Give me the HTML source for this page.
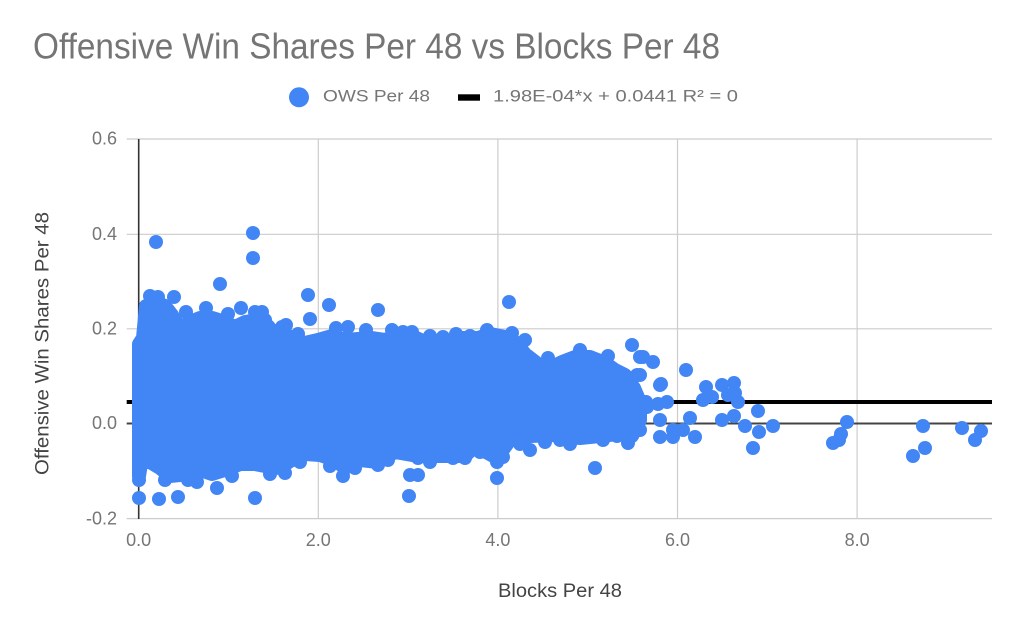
<!DOCTYPE html>
<html><head><meta charset="utf-8"><style>
html,body{margin:0;padding:0;background:#fff;}
svg{display:block;}
text{font-family:"Liberation Sans",Arial,sans-serif;}
</style></head><body>
<svg width="1024" height="633" viewBox="0 0 1024 633" xmlns="http://www.w3.org/2000/svg">
<rect x="0" y="0" width="1024" height="633" fill="#fff"/>
<text x="33" y="58.3" font-size="36" fill="#757575" textLength="687" lengthAdjust="spacingAndGlyphs">Offensive Win Shares Per 48 vs Blocks Per 48</text>
<circle cx="299" cy="97.3" r="10" fill="#4285F4"/>
<text x="323" y="101.7" font-size="17" fill="#757575" textLength="107" lengthAdjust="spacingAndGlyphs">OWS Per 48</text>
<rect x="458" y="94.3" width="22" height="6.4" fill="#000"/>
<text x="493" y="101.7" font-size="17" fill="#757575" textLength="245" lengthAdjust="spacingAndGlyphs">1.98E-04*x + 0.0441 R² = 0</text>
<g stroke="#cccccc" stroke-width="1.2" fill="none">
<line x1="126.7" y1="139" x2="992" y2="139"/>
<line x1="126.7" y1="234.3" x2="992" y2="234.3"/>
<line x1="126.7" y1="328.8" x2="992" y2="328.8"/>
<line x1="126.7" y1="518.6" x2="992" y2="518.6"/>
<line x1="318.3" y1="139" x2="318.3" y2="518.6"/>
<line x1="497.9" y1="139" x2="497.9" y2="518.6"/>
<line x1="677.5" y1="139" x2="677.5" y2="518.6"/>
<line x1="857.1" y1="139" x2="857.1" y2="518.6"/>
</g>
<line x1="126.7" y1="423.5" x2="992" y2="423.5" stroke="#444" stroke-width="2"/>
<line x1="138.7" y1="139" x2="138.7" y2="519" stroke="#333" stroke-width="1.6"/>
<line x1="126.7" y1="402" x2="992" y2="402" stroke="#000" stroke-width="4"/>
<polygon fill="#4285F4" stroke="#4285F4" stroke-width="14" stroke-linejoin="round" points="139,344 143,338 146,306 155,302 165,306 172,315 180,328 190,322 200,318 212,318 225,322 235,327 245,322 258,320 268,326 276,336 284,332 292,340 305,343 318,340 332,336 345,340 358,339 372,338 385,340 398,336 412,336 425,342 437,346 450,342 462,338 478,338 490,334 505,337 515,342 525,354 538,364 550,368 562,362 575,357 590,357 605,363 615,370 625,375 634,388 640,402 640,420 632,436 618,434 600,436 580,438 555,435 530,436 510,440 497,458 475,446 465,456 445,456 418,456 395,452 378,462 360,460 345,468 335,460 320,455 305,454 290,461 280,468 265,466 255,464 240,464 228,469 212,474 200,470 192,473 180,475 170,476 160,468 150,462 143,452 139,476 139,440 139,380"/>
<g fill="#4285F4">
<circle cx="150" cy="296" r="7"/>
<circle cx="158" cy="297" r="7"/>
<circle cx="186" cy="312" r="7"/>
<circle cx="206" cy="308" r="7"/>
<circle cx="228" cy="314" r="7"/>
<circle cx="262" cy="312" r="7"/>
<circle cx="298" cy="334" r="7"/>
<circle cx="336" cy="328" r="7"/>
<circle cx="366" cy="330" r="7"/>
<circle cx="392" cy="330" r="7"/>
<circle cx="430" cy="336" r="7"/>
<circle cx="456" cy="334" r="7"/>
<circle cx="470" cy="336" r="7"/>
<circle cx="548" cy="358" r="7"/>
<circle cx="580" cy="350" r="7"/>
<circle cx="608" cy="356" r="7"/>
<circle cx="165" cy="480" r="7"/>
<circle cx="188" cy="480" r="7"/>
<circle cx="232" cy="476" r="7"/>
<circle cx="270" cy="474" r="7"/>
<circle cx="300" cy="462" r="7"/>
<circle cx="330" cy="466" r="7"/>
<circle cx="355" cy="468" r="7"/>
<circle cx="388" cy="460" r="7"/>
<circle cx="430" cy="462" r="7"/>
<circle cx="480" cy="452" r="7"/>
<circle cx="520" cy="444" r="7"/>
<circle cx="545" cy="442" r="7"/>
<circle cx="570" cy="444" r="7"/>
<circle cx="156" cy="242" r="7"/>
<circle cx="253" cy="233" r="7"/>
<circle cx="253" cy="258" r="7"/>
<circle cx="220" cy="284" r="7"/>
<circle cx="174" cy="297" r="7"/>
<circle cx="308" cy="295" r="7"/>
<circle cx="329" cy="305" r="7"/>
<circle cx="241" cy="308" r="7"/>
<circle cx="255" cy="312" r="7"/>
<circle cx="265" cy="320" r="7"/>
<circle cx="282" cy="327" r="7"/>
<circle cx="286" cy="325" r="7"/>
<circle cx="310" cy="319" r="7"/>
<circle cx="348" cy="327" r="7"/>
<circle cx="378" cy="310" r="7"/>
<circle cx="509" cy="302" r="7"/>
<circle cx="403" cy="332" r="7"/>
<circle cx="412" cy="332" r="7"/>
<circle cx="443" cy="337" r="7"/>
<circle cx="487" cy="330" r="7"/>
<circle cx="512" cy="333" r="7"/>
<circle cx="525" cy="340" r="7"/>
<circle cx="632" cy="345" r="7"/>
<circle cx="640" cy="357" r="7"/>
<circle cx="653" cy="362" r="7"/>
<circle cx="660" cy="385" r="7"/>
<circle cx="637" cy="375" r="7"/>
<circle cx="139" cy="498" r="7"/>
<circle cx="139" cy="480" r="7"/>
<circle cx="159" cy="499" r="7"/>
<circle cx="178" cy="497" r="7"/>
<circle cx="197" cy="482" r="7"/>
<circle cx="217" cy="488" r="7"/>
<circle cx="255" cy="498" r="7"/>
<circle cx="285" cy="473" r="7"/>
<circle cx="343" cy="476" r="7"/>
<circle cx="378" cy="465" r="7"/>
<circle cx="409" cy="496" r="7"/>
<circle cx="410" cy="475" r="7"/>
<circle cx="418" cy="475" r="7"/>
<circle cx="418" cy="458" r="7"/>
<circle cx="453" cy="458" r="7"/>
<circle cx="465" cy="458" r="7"/>
<circle cx="497" cy="478" r="7"/>
<circle cx="497" cy="462" r="7"/>
<circle cx="503" cy="457" r="7"/>
<circle cx="530" cy="450" r="7"/>
<circle cx="560" cy="440" r="7"/>
<circle cx="595" cy="468" r="7"/>
<circle cx="603" cy="440" r="7"/>
<circle cx="617" cy="436" r="7"/>
<circle cx="628" cy="443" r="7"/>
<circle cx="643" cy="357" r="7"/>
<circle cx="640" cy="375" r="7"/>
<circle cx="661" cy="384" r="7"/>
<circle cx="686" cy="370" r="7"/>
<circle cx="706" cy="387" r="7"/>
<circle cx="722" cy="385" r="7"/>
<circle cx="734" cy="383" r="7"/>
<circle cx="735" cy="393" r="7"/>
<circle cx="703" cy="400" r="7"/>
<circle cx="712" cy="397" r="7"/>
<circle cx="738" cy="402" r="7"/>
<circle cx="728" cy="395" r="7"/>
<circle cx="646" cy="402" r="7"/>
<circle cx="647" cy="407" r="7"/>
<circle cx="667" cy="402" r="7"/>
<circle cx="658" cy="404" r="7"/>
<circle cx="758" cy="411" r="7"/>
<circle cx="690" cy="418" r="7"/>
<circle cx="722" cy="420" r="7"/>
<circle cx="734" cy="416" r="7"/>
<circle cx="660" cy="420" r="7"/>
<circle cx="640" cy="430" r="7"/>
<circle cx="660" cy="437" r="7"/>
<circle cx="673" cy="430" r="7"/>
<circle cx="683" cy="430" r="7"/>
<circle cx="673" cy="437" r="7"/>
<circle cx="695" cy="437" r="7"/>
<circle cx="745" cy="426" r="7"/>
<circle cx="759" cy="432" r="7"/>
<circle cx="773" cy="426" r="7"/>
<circle cx="753" cy="448" r="7"/>
<circle cx="847" cy="422" r="7"/>
<circle cx="841" cy="434" r="7"/>
<circle cx="839" cy="440" r="7"/>
<circle cx="833" cy="443" r="7"/>
<circle cx="923" cy="426" r="7"/>
<circle cx="925" cy="448" r="7"/>
<circle cx="913" cy="456" r="7"/>
<circle cx="962" cy="428" r="7"/>
<circle cx="981" cy="431" r="7"/>
<circle cx="975" cy="440" r="7"/>
</g>
<g font-size="18" fill="#757575" text-anchor="end">
<text x="117" y="144.5">0.6</text>
<text x="117" y="239.8">0.4</text>
<text x="117" y="334.3">0.2</text>
<text x="117" y="429">0.0</text>
<text x="117" y="524.3">-0.2</text>
</g>
<g font-size="18" fill="#757575" text-anchor="middle">
<text x="138.7" y="546">0.0</text>
<text x="318.3" y="546">2.0</text>
<text x="497.9" y="546">4.0</text>
<text x="677.5" y="546">6.0</text>
<text x="857.1" y="546">8.0</text>
</g>
<text x="498" y="597" font-size="19" fill="#444" textLength="124" lengthAdjust="spacingAndGlyphs">Blocks Per 48</text>
<text transform="translate(48.5,343.5) rotate(-90)" x="0" y="0" font-size="19" fill="#444" text-anchor="middle" textLength="263" lengthAdjust="spacingAndGlyphs">Offensive Win Shares Per 48</text>
</svg>
</body></html>
